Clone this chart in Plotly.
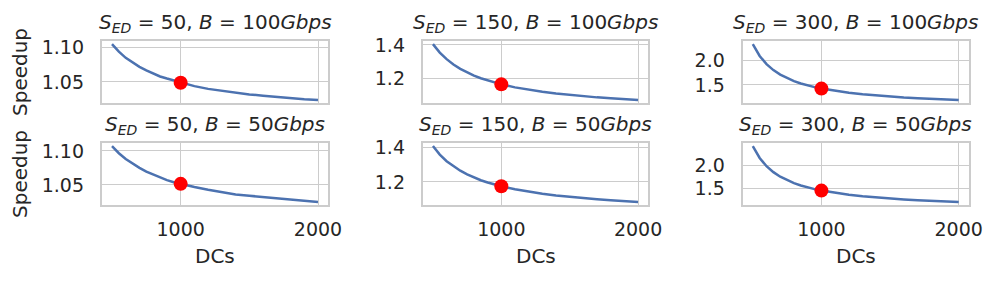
import plotly.graph_objects as go
from plotly.subplots import make_subplots

# ---- data ----
dcs = [500, 550, 600, 650, 700, 750, 800, 850, 900, 950, 1000,
       1100, 1200, 1300, 1400, 1500, 1600, 1700, 1800, 1900, 2000]
s_ed_values = [50, 150, 300]
bandwidth_values = [100, 50]

speedup_s50_b100 = [1.105, 1.094, 1.085, 1.078, 1.072, 1.067, 1.062, 1.058, 1.055, 1.052, 1.049,
                    1.044, 1.040, 1.037, 1.034, 1.032, 1.030, 1.028, 1.026, 1.025, 1.024]
speedup_s150_b100 = [1.405, 1.355, 1.316, 1.2845, 1.259, 1.237, 1.219, 1.203, 1.190, 1.1775, 1.167,
                     1.149, 1.135, 1.123, 1.113, 1.104, 1.097, 1.090, 1.085, 1.079, 1.075]
speedup_s300_b100 = [2.330, 2.088, 1.922, 1.801, 1.709, 1.636, 1.578, 1.529, 1.489, 1.455, 1.425,
                     1.377, 1.339, 1.309, 1.284, 1.263, 1.245, 1.230, 1.217, 1.205, 1.195]
speedup_s50_b50 = [1.107, 1.0965, 1.088, 1.081, 1.075, 1.0695, 1.065, 1.061, 1.057, 1.054, 1.0515,
                   1.047, 1.043, 1.039, 1.036, 1.034, 1.032, 1.030, 1.028, 1.027, 1.025]
speedup_s150_b50 = [1.407, 1.358, 1.320, 1.290, 1.265, 1.2435, 1.226, 1.210, 1.197, 1.185, 1.175,
                    1.158, 1.143, 1.132, 1.122, 1.1135, 1.106, 1.100, 1.094, 1.089, 1.085]
speedup_s300_b50 = [2.410, 2.152, 1.974, 1.845, 1.747, 1.670, 1.608, 1.556, 1.513, 1.4765, 1.445,
                    1.394, 1.353, 1.321, 1.294, 1.272, 1.253, 1.237, 1.223, 1.211, 1.200]

highlight_dc = 1000
x_tickvals = [1000, 2000]
y_dticks = [0.05, 0.2, 0.5]

series = [
    [speedup_s50_b100, speedup_s150_b100, speedup_s300_b100],
    [speedup_s50_b50, speedup_s150_b50, speedup_s300_b50],
]

# ---- layout geometry (pixels) ----
W, H = 997, 282
col_px = [(101.7, 328.3), (422.7, 648.3), (742.5, 969.0)]
row_px = [(41.3, 102.7), (143.3, 204.7)]

TXT = "#262626"
GRID = "#cccccc"
FONT = "DejaVu Sans"

fig = make_subplots(rows=2, cols=3)

xmin, xmax = min(dcs), max(dcs)
xpad = 0.05 * (xmax - xmin)

for r in range(2):
    for c in range(3):
        ys = series[r][c]
        fig.add_trace(go.Scatter(
            x=dcs, y=ys, mode="lines",
            line=dict(color="#4C72B0", width=2.5),
            showlegend=False, hoverinfo="skip"), row=r + 1, col=c + 1)
        mi = dcs.index(highlight_dc)
        fig.add_trace(go.Scatter(
            x=[highlight_dc], y=[ys[mi]], mode="markers",
            marker=dict(color="#ff0000", size=14, line=dict(width=0)),
            showlegend=False, hoverinfo="skip"), row=r + 1, col=c + 1)

        ymin, ymax = min(ys), max(ys)
        ypad = 0.05 * (ymax - ymin)
        x0, x1 = col_px[c]
        y0, y1 = row_px[r]
        fig.update_xaxes(
            domain=[x0 / W, x1 / W], range=[xmin - xpad, xmax + xpad],
            tickvals=x_tickvals, showticklabels=(r == 1),
            showgrid=True, gridcolor=GRID, gridwidth=1.3,
            showline=True, mirror=True, linecolor=GRID, linewidth=1.8,
            zeroline=False, ticks="", ticklabelstandoff=7,
            tickfont=dict(family=FONT, size=19, color=TXT),
            automargin=False,
            row=r + 1, col=c + 1)
        fig.update_yaxes(
            domain=[1 - y1 / H, 1 - y0 / H], range=[ymin - ypad, ymax + ypad],
            dtick=y_dticks[c], tickformat=".2f" if c == 0 else ".1f",
            showgrid=True, gridcolor=GRID, gridwidth=1.3,
            showline=True, mirror=True, linecolor=GRID, linewidth=1.8,
            zeroline=False, ticks="", ticklabelstandoff=12,
            tickfont=dict(family=FONT, size=19, color=TXT),
            automargin=False,
            row=r + 1, col=c + 1)

annotations = []
for r in range(2):
    for c in range(3):
        x0, x1 = col_px[c]
        y0, y1 = row_px[r]
        title = (f"<i>S</i><sub><i>ED</i></sub> = {s_ed_values[c]}, "
                 f"<i>B</i> = {bandwidth_values[r]}<i>Gbps</i>")
        annotations.append(dict(
            text=title, x=(x0 + x1) / 2 / W, y=1 - y0 / H,
            xref="paper", yref="paper", xanchor="center", yanchor="bottom",
            yshift=3, showarrow=False,
            font=dict(family=FONT, size=20, color=TXT)))
    y0, y1 = row_px[r]
    annotations.append(dict(
        text="Speedup", x=20 / W, y=1 - (y0 + y1) / 2 / H,
        xref="paper", yref="paper", xanchor="center", yanchor="middle",
        textangle=-90, showarrow=False,
        font=dict(family=FONT, size=20, color=TXT)))
for c in range(3):
    x0, x1 = col_px[c]
    annotations.append(dict(
        text="DCs", x=(x0 + x1) / 2 / W, y=1 - 256 / H,
        xref="paper", yref="paper", xanchor="center", yanchor="middle",
        showarrow=False, font=dict(family=FONT, size=20, color=TXT)))

fig.update_layout(
    width=W, height=H, margin=dict(l=0, r=0, t=0, b=0),
    paper_bgcolor="white", plot_bgcolor="white",
    annotations=annotations, font=dict(family=FONT, color=TXT))

fig.write_html("out.html", config={"displayModeBar": False},
               post_script="document.body.style.margin='0';document.body.style.overflow='hidden';")
